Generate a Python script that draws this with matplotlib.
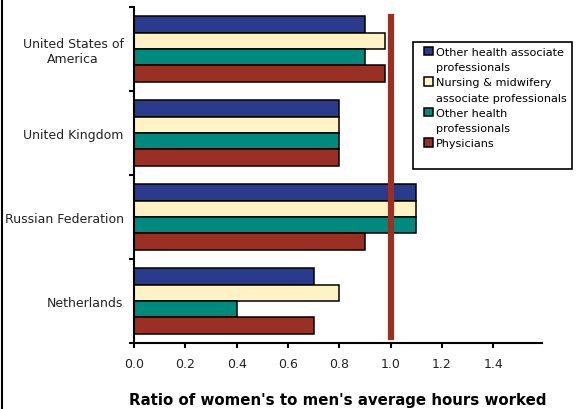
import matplotlib.pyplot as plt
from matplotlib.patches import Patch, Rectangle
import numpy as np

# Данные
countries = ["Netherlands", "Russian Federation", "United Kingdom", "United States of\nAmerica"]
series = [["Other health associate", "professionals"],
          ["Nursing & midwifery", "associate professionals"],
          ["Other health", "professionals"],
          ["Physicians"]]
other_assoc = [0.7, 1.1, 0.8, 0.9]
nursing = [0.8, 1.1, 0.8, 0.98]
other_prof = [0.4, 1.1, 0.8, 0.9]
physicians = [0.7, 0.9, 0.8, 0.98]
colors = ["#2a3a8c", "#fff3c6", "#008a7e", "#9a3024"]
xticks = [0.0, 0.2, 0.4, 0.6, 0.8, 1.0, 1.2, 1.4]

fig = plt.figure(figsize=(5.76, 4.10), dpi=100)
ax = fig.add_axes([0.2326, 0.161, 0.7084, 0.8195])

y = np.arange(len(countries))
h = 0.196
values = [other_assoc, nursing, other_prof, physicians]
for i, (vals, c) in enumerate(zip(values, colors)):
    ax.barh(y + (1.5 - i) * h, vals, height=h, color=c, edgecolor="black",
            linewidth=1.1, zorder=2)

# Линия равенства
ax.axvline(1.0, ymin=0.018, ymax=0.97, color="#9a3024", linewidth=4.5, zorder=3)

ax.set_xlim(0, 1.59)
ax.set_ylim(-0.5, 3.5)
ax.set_xticks(xticks)
ax.set_xticklabels([f"{v:.1f}" for v in xticks], fontsize=9, color="#222222")
ax.set_yticks([-0.5, 0.5, 1.5, 2.5, 3.5])
ax.set_yticklabels([])
ax.set_yticks(y, minor=True)
ax.set_yticklabels(countries, minor=True, fontsize=9, color="#222222",
                   multialignment="center")
ax.tick_params(axis="y", which="minor", length=0, pad=7.5)
ax.tick_params(axis="y", which="major", length=3.5, width=1.5)
ax.tick_params(axis="x", length=3.5, width=1.5, pad=6.5)

for s in ["top", "right"]:
    ax.spines[s].set_visible(False)
for s in ["left", "bottom"]:
    ax.spines[s].set_linewidth(1.5)

ax.set_xlabel("Ratio of women's to men's average hours worked", fontsize=10.8,
              fontweight="bold", labelpad=16)

# Легенда: каждая строка подписи отдельной записью, квадрат у первой строки
handles, labels = [], []
for lines, c in zip(series, colors):
    for k, line in enumerate(lines):
        if k == 0:
            handles.append(Patch(facecolor=c, edgecolor="black", linewidth=1.1))
        else:
            handles.append(Patch(facecolor="none", edgecolor="none"))
        labels.append(line)
fig.add_artist(Rectangle((0.717, 0.585), 0.276, 0.310, transform=fig.transFigure,
                         facecolor="white", edgecolor="black", linewidth=1.2,
                         zorder=5))
leg = fig.legend(handles, labels, loc="upper left", bbox_to_anchor=(0.7365, 0.883),
                 fontsize=8.1, frameon=False, handlelength=0.75, handleheight=0.75,
                 handletextpad=0.3, labelspacing=0.46, borderpad=0,
                 borderaxespad=0)
leg.set_zorder(6)

# Рамка слева
fig.add_artist(plt.Line2D([0.004, 0.004], [0, 1], color="black", linewidth=1.5,
                          transform=fig.transFigure))

fig.savefig("out.png", dpi=100)
